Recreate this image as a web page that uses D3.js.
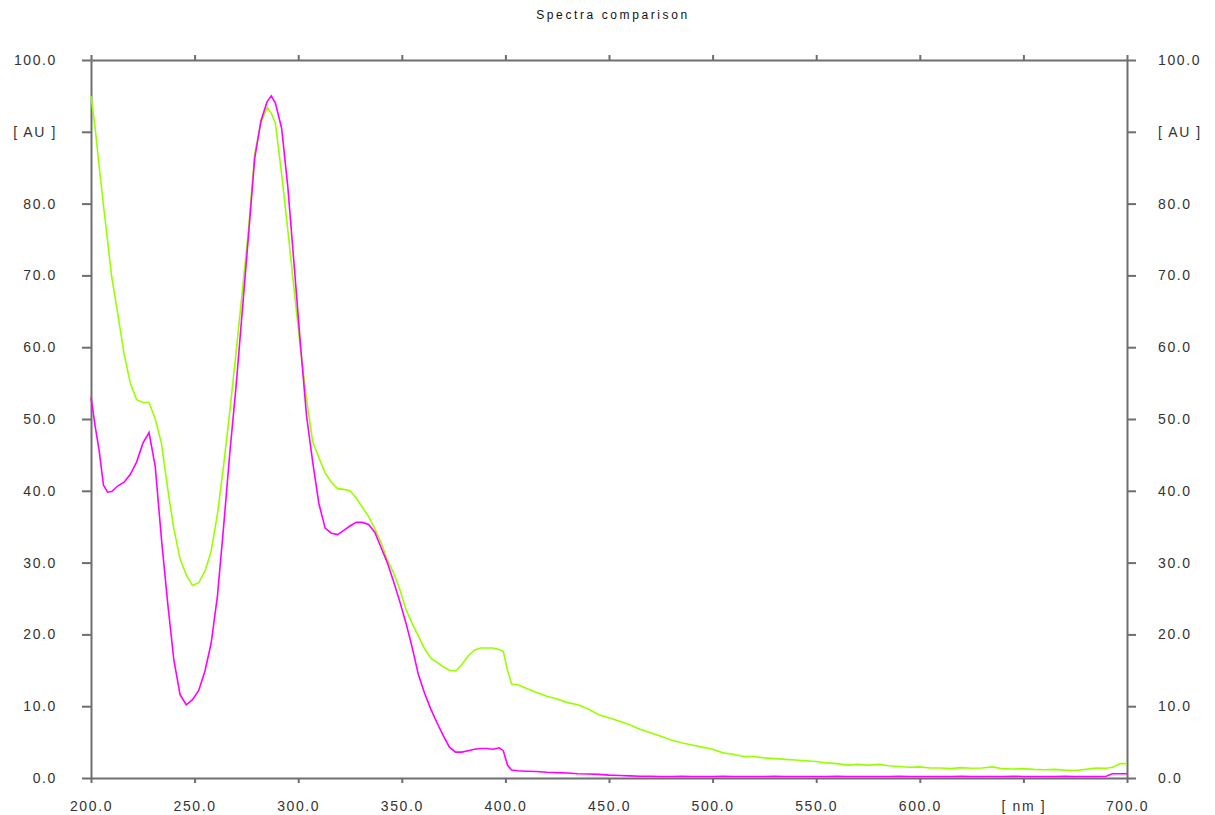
<!DOCTYPE html>
<html>
<head>
<meta charset="utf-8">
<script src="https://cdn.jsdelivr.net/npm/d3@7"></script>
<style>
  body { margin: 0; background: #fff; }
  svg text { font-family: "Liberation Sans", Arial, sans-serif; fill: #333; }
</style>
</head>
<body>
<div id="chart"></div>
<script>
// wavelength grid [nm]
var wavelengths = [200, 202, 204, 206, 208, 210, 213, 216, 219, 222, 225, 228, 231, 234, 237, 240, 243, 246, 249, 252,
  255, 258, 261, 264, 267, 270, 273, 276, 279, 282, 285, 287, 289, 292, 295, 298, 301, 304, 307, 310,
  313, 316, 319, 322, 325, 328, 331, 334, 337, 340, 343, 346, 349, 352, 355, 358, 361, 364, 367, 370,
  373, 376, 379, 382, 385, 388, 391, 394, 397, 399, 401, 403, 406, 410, 415, 420, 425, 430, 435, 440,
  445, 450, 455, 460, 465, 470, 475, 480, 485, 490, 495, 500, 505, 510, 515, 520, 525, 530, 535, 540,
  545, 550, 555, 560, 565, 570, 575, 580, 585, 590, 595, 600, 605, 610, 615, 620, 625, 630, 635, 640,
  645, 650, 655, 660, 665, 670, 675, 680, 685, 690, 693, 697, 700];

// green spectrum [AU]
var greenAU = [95.0, 90.5, 85.0, 79.8, 74.8, 69.8, 64.5, 59.0, 55.0, 52.7, 52.3, 52.3, 50.0, 46.6, 40.3, 34.7, 30.5, 28.3, 26.8, 27.2,
  28.8, 31.6, 36.7, 43.5, 51.1, 59.2, 67.7, 76.3, 86.9, 91.2, 93.4, 92.6, 91.2, 84.1, 76.3, 68.1, 60.0, 52.8, 46.8, 44.6,
  42.5, 41.2, 40.3, 40.2, 40.0, 39.0, 37.7, 36.4, 34.7, 32.8, 30.4, 28.6, 26.3, 23.5, 21.5, 19.8, 18.0, 16.7, 16.1, 15.5,
  15.0, 14.9, 15.8, 17.0, 17.8, 18.1, 18.1, 18.1, 17.9, 17.6, 15.0, 13.1, 13.0, 12.5, 11.9, 11.4, 11.0, 10.5, 10.2, 9.6,
  8.8, 8.4, 7.9, 7.4, 6.8, 6.3, 5.8, 5.3, 4.9, 4.6, 4.3, 4.0, 3.5, 3.3, 3.0, 3.0, 2.8, 2.7, 2.6, 2.5,
  2.4, 2.3, 2.1, 2.0, 1.8, 1.9, 1.8, 1.9, 1.7, 1.6, 1.5, 1.55, 1.4, 1.4, 1.3, 1.45, 1.35, 1.4, 1.55, 1.3,
  1.25, 1.3, 1.2, 1.15, 1.2, 1.1, 1.05, 1.2, 1.4, 1.35, 1.5, 2.0, 2.0];

// magenta spectrum [AU]
var magentaAU = [53.0, 49.0, 45.5, 40.8, 39.8, 39.9, 40.7, 41.2, 42.3, 44.0, 46.6, 48.1, 43.4, 33.3, 24.4, 16.4, 11.6, 10.2, 10.9, 12.2,
  14.9, 18.8, 25.3, 35.0, 45.3, 54.5, 65.0, 75.5, 86.3, 91.5, 94.2, 95.0, 94.0, 90.5, 82.3, 71.6, 60.7, 50.5, 44.0, 38.2,
  34.8, 34.1, 33.9, 34.5, 35.1, 35.6, 35.6, 35.3, 34.2, 32.1, 30.0, 27.4, 24.6, 21.6, 18.2, 14.4, 11.8, 9.6, 7.7, 5.9,
  4.3, 3.6, 3.6, 3.8, 4.0, 4.1, 4.1, 4.0, 4.2, 3.8, 1.8, 1.1, 1.0, 0.95, 0.9, 0.8, 0.75, 0.7, 0.6, 0.55,
  0.5, 0.4, 0.35, 0.3, 0.25, 0.25, 0.2, 0.2, 0.25, 0.2, 0.2, 0.2, 0.25, 0.2, 0.2, 0.2, 0.2, 0.25, 0.2, 0.2,
  0.2, 0.2, 0.2, 0.25, 0.2, 0.2, 0.2, 0.2, 0.2, 0.25, 0.2, 0.2, 0.2, 0.2, 0.2, 0.25, 0.2, 0.2, 0.2, 0.2,
  0.25, 0.2, 0.2, 0.2, 0.2, 0.25, 0.2, 0.2, 0.2, 0.25, 0.6, 0.6, 0.6];

var xTicks = [200, 250, 300, 350, 400, 450, 500, 550, 600, 650, 700];
var yTicks = [0, 10, 20, 30, 40, 50, 60, 70, 80, 90, 100];
var xUnitTick = 650;   // label slot used for "[ nm ]"
var yUnitTick = 90;    // label slot used for "[ AU ]"

var chartW = 1215, chartH = 815;
var plotLeft = 91, plotRight = 1127, plotTop = 60, plotBottom = 778;

var svg = d3.select("#chart")
            .append("svg")
            .attr("width", chartW)
            .attr("height", chartH);

var x = d3.scaleLinear().domain([200, 700]).range([plotLeft, plotRight]);
var y = d3.scaleLinear().domain([0, 100]).range([plotBottom, plotTop]);

svg.append("text")
   .attr("x", 613)
   .attr("y", 19)
   .attr("text-anchor", "middle")
   .attr("font-size", "12px")
   .attr("letter-spacing", "2.6px")
   .style("fill", "#111")
   .text("Spectra comparison");

function yFmt(d) { return d === yUnitTick ? "[ AU ]" : d.toFixed(1); }
function xFmt(d) { return d === xUnitTick ? "[ nm ]" : d.toFixed(1); }

var gLeft = svg.append("g")
   .attr("transform", "translate(" + plotLeft + ",0)")
   .call(d3.axisLeft(y).tickValues(yTicks).tickSize(9).tickSizeOuter(0).tickPadding(25).tickFormat(yFmt));

var gRight = svg.append("g")
   .attr("transform", "translate(" + plotRight + ",0)")
   .call(d3.axisRight(y).tickValues(yTicks).tickSize(9).tickSizeOuter(0).tickPadding(22).tickFormat(yFmt));

var gBottom = svg.append("g")
   .attr("transform", "translate(0," + plotBottom + ")")
   .call(d3.axisBottom(x).tickValues(xTicks).tickSize(5).tickSizeOuter(0).tickPadding(18).tickFormat(xFmt));

var gTop = svg.append("g")
   .attr("transform", "translate(0," + plotTop + ")")
   .call(d3.axisTop(x).tickValues(xTicks).tickSize(5).tickSizeOuter(0).tickFormat(""));

[gLeft, gRight, gBottom, gTop].forEach(function(g) {
  g.selectAll("path, line")
   .attr("stroke", "#6e6e6e")
   .attr("stroke-width", 2);
  g.selectAll("text")
   .attr("font-family", "Liberation Sans, Arial, sans-serif")
   .attr("font-size", "14px")
   .attr("letter-spacing", "1.6px")
   .style("fill", "#333");
});

var line = d3.line()
   .x(function(d, i) { return x(wavelengths[i]); })
   .y(function(d) { return y(d); });

svg.append("path")
   .datum(greenAU)
   .attr("d", line)
   .attr("fill", "none")
   .attr("stroke", "#99ff00")
   .attr("stroke-width", 1.6);

svg.append("path")
   .datum(magentaAU)
   .attr("d", line)
   .attr("fill", "none")
   .attr("stroke", "#ff00ff")
   .attr("stroke-width", 1.6);
</script>
</body>
</html>
